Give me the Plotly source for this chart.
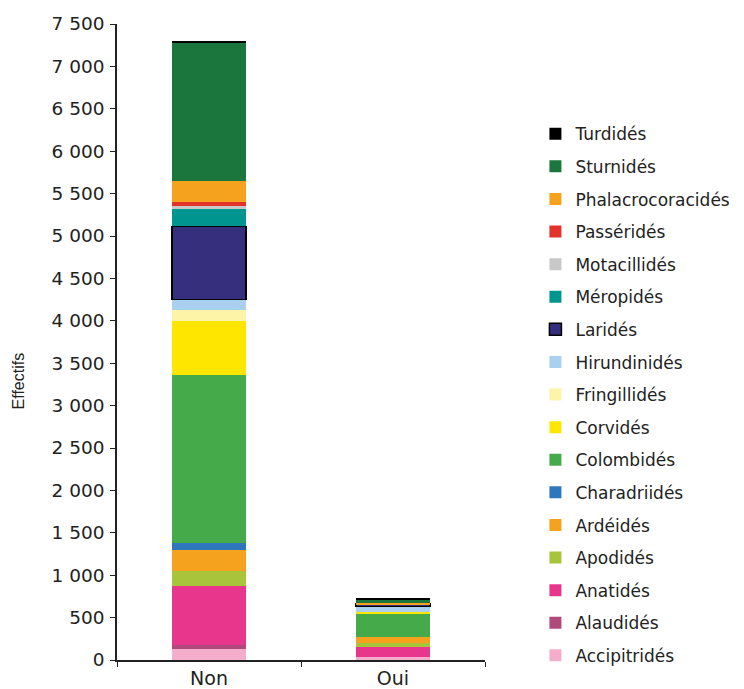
import plotly.graph_objects as go

categories = ["Non", "Oui"]
families = ["Accipitridés", "Alaudidés", "Anatidés", "Apodidés", "Ardéidés",
            "Charadriidés", "Colombidés", "Corvidés", "Fringillidés", "Hirundinidés",
            "Laridés", "Méropidés", "Motacillidés", "Passéridés",
            "Phalacrocoracidés", "Sturnidés", "Turdidés"]
non_values = [132, 43, 692, 180, 248, 87, 1976, 637, 138, 118, 864, 206, 30, 52, 243, 1632, 27]
oui_values = [32, 0, 122, 43, 79, 0, 263, 24, 0, 67, 30, 0, 0, 0, 15, 39, 8]
colors = ["#F4AECB", "#B04A7C", "#E8368C", "#A7C43A", "#F5A31F",
          "#2E77BC", "#44AA4A", "#FFE600", "#FEF4A8", "#AAD0F0",
          "#352F7E", "#009690", "#C8C8C8", "#E3312B",
          "#F5A31F", "#1B763E", "#000000"]
y_ticks = list(range(0, 7501, 500))

fig = go.Figure()
n = len(families)
for i, fam in enumerate(families):
    line_w = 1.5 if fam == "Laridés" else 0
    fig.add_trace(go.Bar(
        x=categories, y=[non_values[i], oui_values[i]], name=fam,
        marker=dict(color=colors[i], line=dict(color="#000000", width=line_w)),
        legendgroup=fam, legendrank=1000 + (n - i) * 10,
    ))

fig.update_layout(
    barmode="stack",
    bargap=0.6,
    width=744, height=689,
    margin=dict(l=117, r=259, t=24, b=29, autoexpand=False),
    plot_bgcolor="white", paper_bgcolor="white",
    separators=", ",
    font=dict(family="DejaVu Sans", size=15, color="#222222"),
    legend=dict(
        x=1.137, y=0.855, xanchor="left", yanchor="top",
        traceorder="grouped", tracegroupgap=7.5,
        font=dict(family="DejaVu Sans", size=17, color="#222222"),
    ),
    showlegend=True,
    annotations=[dict(
        text="Effectifs", textangle=-90, showarrow=False,
        xref="paper", yref="paper", x=0, y=0.438, xanchor="center", yanchor="middle",
        xshift=-99,
        font=dict(family="Liberation Sans Narrow, Liberation Sans", size=16, color="#222222"),
    )],
)
fig.update_xaxes(
    showline=True, linecolor="#222222", linewidth=1.5,
    ticks="outside", tickson="boundaries", ticklen=5, tickcolor="#222222",
    tickfont=dict(family="DejaVu Sans", size=19),
)
fig.update_yaxes(
    range=[0, 7500], tickvals=y_ticks, tickformat=",d",
    showline=True, linecolor="#222222", linewidth=1.5,
    ticks="outside", ticklen=5, tickcolor="#222222",
    showgrid=False, zeroline=False, ticklabelstandoff=2,
    tickfont=dict(family="DejaVu Sans", size=18.5),
)
fig.write_html("out.html")
